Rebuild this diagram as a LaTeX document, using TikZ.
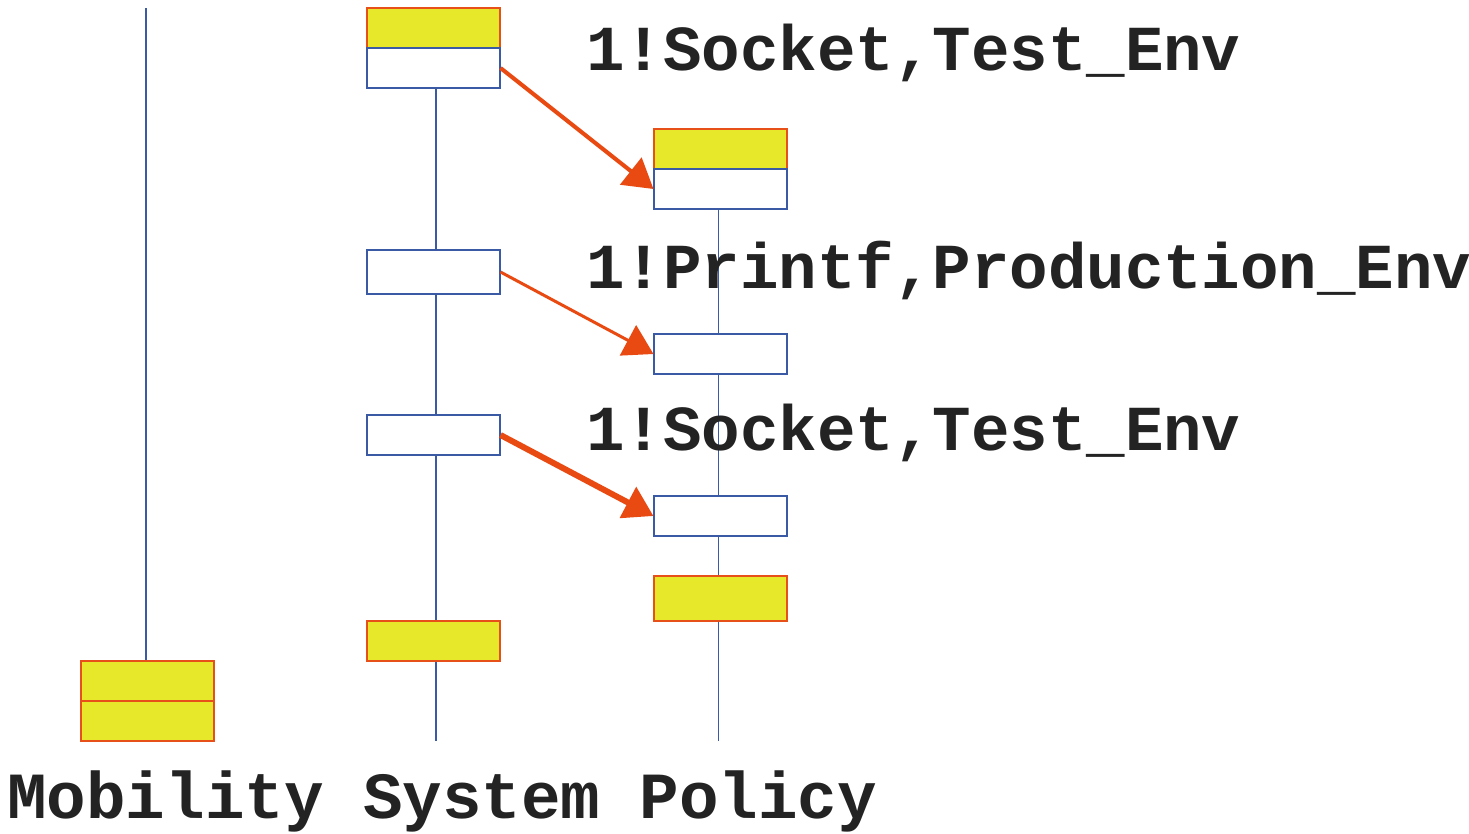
\documentclass[tikz,border=0pt]{standalone}
\usepackage{fontspec}
\newfontfamily\codefont{Liberation Mono}
\usetikzlibrary{arrows.meta}
\definecolor{actyellow}{HTML}{E8E82A}
\definecolor{actorange}{HTML}{E8501A}
\definecolor{lifeblue}{HTML}{3A5AA5}
\definecolor{msgred}{HTML}{E84A12}
\definecolor{txtgray}{HTML}{232323}
\begin{document}
\begin{tikzpicture}[x=0.02cm,y=-0.02cm,
  act/.style={rectangle,inner sep=0pt,minimum width=2.66cm,minimum height=0.8cm},
  busy/.style={act,fill=actyellow,draw=actorange,line width=0.6pt},
  idle/.style={act,fill=white,draw=lifeblue,line width=0.6pt},
  life/.style={draw=lifeblue,line width=0.6pt},
  msg/.style={draw=msgred,-{Triangle[length=0.58cm,width=0.68cm]}},
  lbl/.style={anchor=base west,inner sep=0pt,text=txtgray,font=\codefont\bfseries\fontsize{36.5}{36.5}\selectfont},
  headlbl/.style={lbl,font=\codefont\bfseries\fontsize{37.5}{37.5}\selectfont}]
  \useasboundingbox (0,0) rectangle (1469,833);

  \path
  (146,8)       coordinate(mtop)
  (436,741)     coordinate(sbot)
  (718.5,741)   coordinate(pbot)

  (147.5,681)   node[busy](m1)  {}
  (147.5,721)   node[busy](m2)  {}

  (433.5,28)    node[busy](s1)  {}
  (433.5,68)    node[idle](s2)  {}
  (433.5,272)   node[idle,minimum height=0.88cm](s3) {}
  (433.5,435)   node[idle](s4)  {}
  (433.5,641)   node[busy](s5)  {}

  (720.5,149)   node[busy](p1)  {}
  (720.5,189)   node[idle](p2)  {}
  (720.5,354)   node[idle](p3)  {}
  (720.5,516)   node[idle](p4)  {}
  (720.5,598.5) node[busy,minimum height=0.9cm](p5) {}
  ;

  \draw[life] (mtop) -- (mtop |- m1.north);
  \draw[life] (s2.south -| sbot) -- (s3.north -| sbot);
  \draw[life] (s3.south -| sbot) -- (s4.north -| sbot);
  \draw[life] (s4.south -| sbot) -- (s5.north -| sbot);
  \draw[life] (s5.south -| sbot) -- (sbot);
  \draw[life] (p2.south -| pbot) -- (p3.north -| pbot);
  \draw[life] (p3.south -| pbot) -- (p4.north -| pbot);
  \draw[life] (p4.south -| pbot) -- (p5.north -| pbot);
  \draw[life] (p5.south -| pbot) -- (pbot);

  \draw[msg,line width=2.3pt] (s2.east) -- (p2.west);
  \draw[msg,line width=1.7pt] (s3.east) -- (p3.west);
  \draw[msg,line width=3.4pt] (s4.east) -- (p4.west);

  \path
  (586,70)  node[lbl](t1) {1!Socket,Test\_Env}
  (586,288) node[lbl](t2) {1!Printf,Production\_Env}
  (586,450) node[lbl](t3) {1!Socket,Test\_Env}

  (7,818)   node[headlbl](nm) {Mobility System Policy}
  ;
\end{tikzpicture}
\end{document}
